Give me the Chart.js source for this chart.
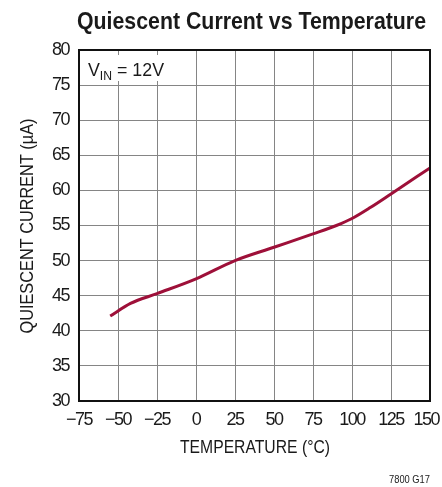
<!DOCTYPE html>
<html>
<head>
<meta charset="utf-8">
<script src="https://cdn.jsdelivr.net/npm/chart.js@4.4.1/dist/chart.umd.min.js"></script>
<style>
html,body{margin:0;padding:0;background:#fff;}
#wrap{width:442px;height:487px;}
</style>
</head>
<body>
<div id="wrap"><canvas id="c" width="442" height="487"></canvas></div>
<script>
const temperatures = [-55, -42, -25, 0, 25, 50, 75, 90, 100, 112, 125, 150];
const quiescentCurrent = [42.1, 43.9, 45.3, 47.4, 50.0, 51.9, 53.8, 55.0, 56.0, 57.6, 59.5, 63.2];
const xTicks = [-75, -50, -25, 0, 25, 50, 75, 100, 125, 150];
const yTicks = [30, 35, 40, 45, 50, 55, 60, 65, 70, 75, 80];

const FONT = '"Liberation Sans", Arial, sans-serif';

// draw text squeezed horizontally to a target width
function fitText(ctx, text, cx, y, targetW, align) {
  const w = ctx.measureText(text).width;
  const s = targetW / w;
  ctx.save();
  ctx.translate(cx, y);
  ctx.scale(s, 1);
  ctx.textAlign = align || 'center';
  ctx.fillText(text, 0, 0);
  ctx.restore();
}

const overlay = {
  id: 'overlay',
  beforeDraw(chart) {
    chart.ctx.letterSpacing = '-1.5px';
  },
  beforeDatasetsDraw(chart) {
    const ctx = chart.ctx, a = chart.chartArea;
    ctx.save();
    ctx.letterSpacing = '0px';
    ctx.fillStyle = '#fff';
    ctx.fillRect(a.left + 1, a.top + 5, 90, 26);
    ctx.fillStyle = '#1a1a1a';
    ctx.textBaseline = 'alphabetic';
    ctx.textAlign = 'left';
    const parts = [['V', 19, 0], ['IN', 13, 4], [' = 12V', 19, 0]];
    let total = 0;
    parts.forEach(p => { ctx.font = p[1] + 'px ' + FONT; total += ctx.measureText(p[0]).width; });
    ctx.translate(88, 76);
    ctx.scale(76 / total, 1);
    let x = 0;
    parts.forEach(p => {
      ctx.font = p[1] + 'px ' + FONT;
      ctx.fillText(p[0], x, p[2]);
      x += ctx.measureText(p[0]).width;
    });
    ctx.restore();
  },
  afterDraw(chart) {
    const ctx = chart.ctx, a = chart.chartArea;
    ctx.save();
    ctx.letterSpacing = '0px';
    ctx.strokeStyle = '#111';
    ctx.lineWidth = 2;
    ctx.strokeRect(a.left, a.top, a.right - a.left, a.bottom - a.top);
    ctx.fillStyle = '#1a1a1a';
    ctx.textBaseline = 'alphabetic';
    ctx.font = 'bold 24px ' + FONT;
    fitText(ctx, 'Quiescent Current vs Temperature', 251.5, 29, 349);
    ctx.font = '18px ' + FONT;
    fitText(ctx, 'TEMPERATURE (\u00B0C)', 255, 453, 150);
    ctx.save();
    ctx.translate(33, 226);
    ctx.rotate(-Math.PI / 2);
    fitText(ctx, 'QUIESCENT CURRENT (\u00B5A)', 0, 0, 215);
    ctx.restore();
    ctx.font = '11px ' + FONT;
    fitText(ctx, '7800 G17', 430, 483, 41, 'right');
    ctx.restore();
  }
};

new Chart(document.getElementById('c'), {
  type: 'line',
  data: {
    datasets: [{
      data: temperatures.map((t, i) => ({x: t, y: quiescentCurrent[i]})),
      borderColor: '#9e1039',
      borderWidth: 3,
      pointRadius: 0,
      tension: 0.4,
      cubicInterpolationMode: 'monotone',
      fill: false
    }]
  },
  options: {
    responsive: false,
    animation: false,
    devicePixelRatio: 1,
    layout: {padding: {left: 0, right: 12, top: 50, bottom: 0}},
    plugins: {legend: {display: false}, tooltip: {enabled: false}, title: {display: false}},
    scales: {
      x: {
        type: 'linear',
        min: -75, max: 150,
        afterBuildTicks(s) { s.ticks = xTicks.map(v => ({value: v})); },
        afterFit(s) { s.height = 86; s.paddingLeft = 0; s.paddingRight = 0; },
        grid: {color: '#858585', lineWidth: 1, drawTicks: false},
        border: {display: false},
        ticks: {
          padding: 8,
          color: '#1a1a1a',
          font: {family: FONT, size: 18},
          maxRotation: 0,
          autoSkip: false,
          callback: (v, i, arr) => String(v).replace('-', '\u2212') + (i === arr.length - 1 ? '\u2002' : '')
        }
      },
      y: {
        type: 'linear',
        min: 30, max: 80,
        afterBuildTicks(s) { s.ticks = yTicks.map(v => ({value: v})); },
        afterFit(s) { s.width = 79; s.paddingTop = 0; s.paddingBottom = 0; },
        grid: {color: '#858585', lineWidth: 1, drawTicks: false},
        border: {display: false},
        ticks: {
          padding: 10,
          color: '#1a1a1a',
          font: {family: FONT, size: 18},
          autoSkip: false
        }
      }
    }
  },
  plugins: [overlay]
});
</script>
</body>
</html>
